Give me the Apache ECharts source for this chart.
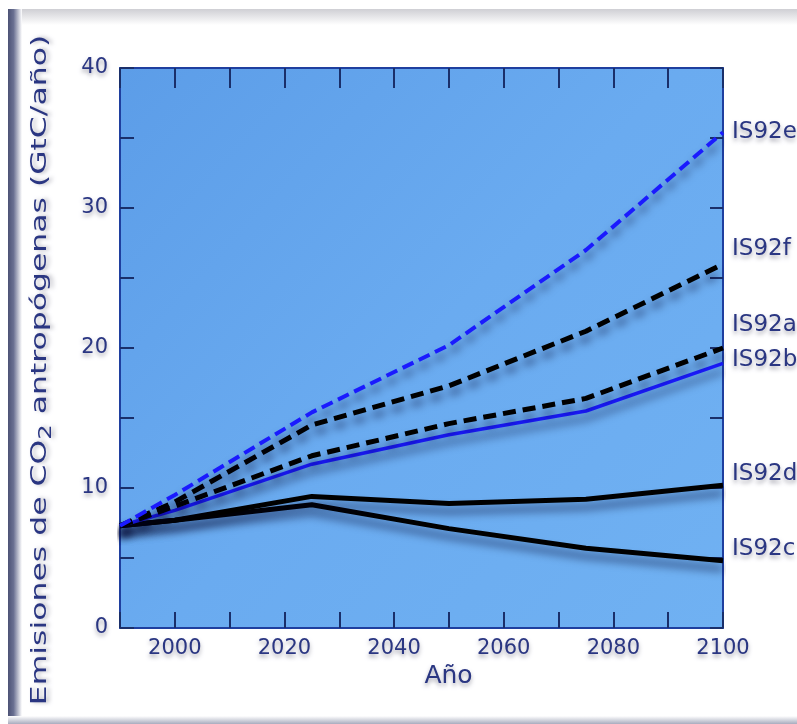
<!DOCTYPE html>
<html>
<head>
<meta charset="utf-8">
<script src="https://cdn.jsdelivr.net/npm/echarts@6/dist/echarts.min.js"></script>
<style>
html,body{margin:0;padding:0;background:#ffffff;}
#chart{width:797px;height:724px;}
</style>
</head>
<body>
<div id="chart"></div>
<script>
// ---- data ----
var years = [1990, 2000, 2025, 2050, 2075, 2100];
var seriesNames = ['IS92e', 'IS92f', 'IS92a', 'IS92b', 'IS92d', 'IS92c'];
var IS92e = [7.3, 9.5, 15.4, 20.2, 27.0, 35.4];
var IS92f = [7.3, 9.0, 14.5, 17.3, 21.2, 26.0];
var IS92a = [7.3, 8.7, 12.3, 14.6, 16.4, 20.0];
var IS92b = [7.3, 8.4, 11.7, 13.8, 15.5, 18.9];
var IS92d = [7.3, 7.7, 9.4, 8.9, 9.2, 10.2];
var IS92c = [7.3, 7.7, 8.8, 7.1, 5.7, 4.8];
var xTickLabels = [2000, 2020, 2040, 2060, 2080, 2100];
var yTickLabels = [0, 10, 20, 30, 40];
var yTitleParts = ['Emisiones de CO', '2', ' antropógenas (GtC/año)'];
var xTitle = 'Año';

// ---- styles ----
var values = [IS92e, IS92f, IS92a, IS92b, IS92d, IS92c];
var lineColors = ['#1a1aff', '#000000', '#000000', '#1a1aff', '#000000', '#000000'];
var lineWidths = [4, 5, 5, 3.5, 5, 5];
var lineTypes = [[12, 6], [13, 7], [13, 7], 'solid', 'solid', 'solid'];
var labelOffsets = [[0, 0], [0, -15], [0, -23], [0, -3], [0, -11], [0, -12]];
var navy = '#2a3682';
var tickColor = '#1a2f6a';
var axisColor = '#1f3f9f';
var txtShadow = {textShadowColor: 'rgba(0,0,30,0.35)', textShadowBlur: 4, textShadowOffsetY: 3};

function pairs(arr) { return years.map(function (y, i) { return [y, arr[i]]; }); }

var series = seriesNames.map(function (name, i) {
  return {
    name: name,
    type: 'line',
    data: pairs(values[i]),
    symbol: 'none',
    smooth: false,
    z: 10 - i,
    lineStyle: {
      color: lineColors[i], width: lineWidths[i], type: lineTypes[i],
      shadowColor: 'rgba(0,0,40,0.55)', shadowBlur: 8, shadowOffsetY: 8
    },
    endLabel: Object.assign({
      show: true, formatter: name, color: navy, fontSize: 23,
      fontFamily: 'DejaVu Sans', distance: 9, offset: labelOffsets[i]
    }, txtShadow)
  };
});

var chart = echarts.init(document.getElementById('chart'), null, {renderer: 'canvas'});
chart.setOption({
  animation: false,
  backgroundColor: '#ffffff',
  graphic: [
    {type: 'rect', shape: {x: 8, y: 9, width: 789, height: 16}, z: -10,
      style: {fill: {type: 'linear', x: 0, y: 0, x2: 0, y2: 1,
        colorStops: [{offset: 0, color: '#cfcfd4'}, {offset: 1, color: '#ffffff'}]}}},
    {type: 'rect', shape: {x: 8, y: 9, width: 14, height: 712}, z: -9,
      style: {fill: {type: 'linear', x: 0, y: 0, x2: 1, y2: 0,
        colorStops: [{offset: 0, color: '#4c5275'}, {offset: 0.4, color: '#6a7092'}, {offset: 1, color: '#ffffff'}]}}},
    {type: 'rect', shape: {x: 8, y: 716, width: 789, height: 8}, z: -9,
      style: {fill: {type: 'linear', x: 0, y: 0, x2: 0, y2: 1,
        colorStops: [{offset: 0, color: '#ffffff'}, {offset: 1, color: '#a8acbe'}]}}},
    {type: 'text', x: 40, y: 370, rotation: Math.PI / 2, scaleX: 1.43, z: 5,
      style: {
        text: '{a|' + yTitleParts[0] + '}{s|' + yTitleParts[1] + '}{a|' + yTitleParts[2] + '}',
        align: 'center', verticalAlign: 'middle',
        rich: {
          a: {fill: navy, fontSize: 22, fontFamily: 'DejaVu Sans'},
          s: {fill: navy, fontSize: 17, fontFamily: 'DejaVu Sans', padding: [14, 0, 0, 0]}
        },
        textShadowColor: 'rgba(0,0,30,0.3)', textShadowBlur: 4, textShadowOffsetX: 3
      }}
  ],
  grid: {
    left: 120, top: 68, right: 74, bottom: 96, show: true, borderWidth: 0,
    backgroundColor: {type: 'linear', x: 0, y: 0, x2: 1, y2: 1,
      colorStops: [{offset: 0, color: '#5c9de8'}, {offset: 0.5, color: '#6aabf0'}, {offset: 1, color: '#70b1f2'}]}
  },
  xAxis: [{
    type: 'value', min: 1990, max: 2100, interval: 10, position: 'bottom',
    name: xTitle, nameLocation: 'middle', nameGap: 32,
    nameTextStyle: Object.assign({color: navy, fontSize: 25, fontFamily: 'DejaVu Sans', padding: [0, 0, 0, 54]}, txtShadow),
    axisLine: {show: true, onZero: false, lineStyle: {color: axisColor, width: 2}},
    axisTick: {show: true, inside: true, length: 16, lineStyle: {color: tickColor, width: 2}},
    axisLabel: Object.assign({
      color: navy, fontSize: 21, fontFamily: 'DejaVu Sans', margin: 10,
      formatter: function (v) { return xTickLabels.indexOf(v) >= 0 ? String(v) : ''; }
    }, txtShadow),
    splitLine: {show: false}
  }, {
    type: 'value', min: 1990, max: 2100, interval: 10, position: 'top',
    axisLine: {show: true, onZero: false, lineStyle: {color: axisColor, width: 2}},
    axisTick: {show: true, inside: true, length: 20, lineStyle: {color: tickColor, width: 2}},
    axisLabel: {show: false}, splitLine: {show: false}
  }],
  yAxis: [{
    type: 'value', min: 0, max: 40, interval: 5, position: 'left',
    axisLine: {show: true, onZero: false, lineStyle: {color: axisColor, width: 2}},
    axisTick: {show: true, inside: true, length: 14, lineStyle: {color: tickColor, width: 2}},
    axisLabel: Object.assign({
      color: navy, fontSize: 21, fontFamily: 'DejaVu Sans', margin: 12,
      formatter: function (v) { return yTickLabels.indexOf(v) >= 0 ? String(v) : ''; }
    }, txtShadow),
    splitLine: {show: false}
  }, {
    type: 'value', min: 0, max: 40, interval: 5, position: 'right',
    axisLine: {show: true, onZero: false, lineStyle: {color: axisColor, width: 2}},
    axisTick: {show: true, inside: true, length: 13, lineStyle: {color: tickColor, width: 2}},
    axisLabel: {show: false}, splitLine: {show: false}
  }],
  series: series
});
</script>
</body>
</html>
